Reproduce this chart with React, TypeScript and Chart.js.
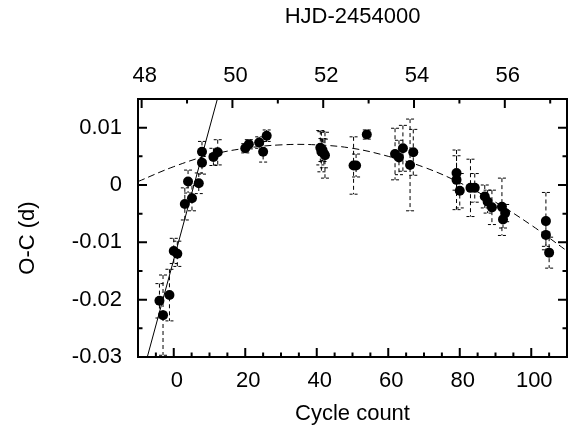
import { useEffect, useRef } from 'react'
import { Chart, registerables } from 'chart.js'

Chart.register(...registerables)

// ── data ─────────────────────────────────────────────────────────────────
const cycles = [
  -4.0, -3.0, -1.2, 0.0, 1.0, 3.1, 5.1, 4.0, 7.0, 7.9, 7.9, 11.1, 12.3,
  20.0, 21.0, 23.9, 25.0, 26.0, 41.0, 41.3, 42.0, 41.6, 42.3, 50.3, 51.0, 54.0,
  61.9, 63.0, 64.1, 66.1, 67.0, 79.1, 79.1, 80.0, 83.0, 84.2, 87.0, 87.8, 89.0,
  91.8, 92.7, 92.1, 104.1, 104.1, 105.0,
]
const ocValues = [
  -0.0202, -0.0227, -0.0192, -0.0115, -0.0120, -0.0033, -0.0023, 0.0006, 0.0003, 0.0039, 0.0058, 0.0049, 0.0057,
  0.0064, 0.0071, 0.0074, 0.0058, 0.0086, 0.0065, 0.0058, 0.0055, 0.0061, 0.0052, 0.0034, 0.0034, 0.0088,
  0.0054, 0.0048, 0.0064, 0.0035, 0.0057, 0.0021, 0.0009, -0.0010, -0.0005, -0.0005, -0.0020, -0.0029, -0.0039,
  -0.0038, -0.0049, -0.0060, -0.0063, -0.0087, -0.0118,
]
const ocErrors = [
  0.0030, 0.0070, 0.0045, 0.0022, 0.0022, 0.0028, 0.0022, 0.0020, 0.0018, 0.0020, 0.0018, 0.0015, 0.0022,
  0.0008, 0.0008, 0.0010, 0.0018, 0.0010, 0.0030, 0.0035, 0.0025, 0.0020, 0.0040, 0.0050, 0.0020, 0.0008,
  0.0045, 0.0030, 0.0040, 0.0080, 0.0040, 0.0030, 0.0052, 0.0030, 0.0050, 0.0025, 0.0020, 0.0020, 0.0030,
  0.0050, 0.0015, 0.0015, 0.0050, 0.0020, 0.0027,
]

// quadratic fit (dashed), read at every 10 cycles
const fitCycles = [-10, 0, 10, 20, 30, 40, 50, 60, 70, 80, 90, 100, 110]
const fitValues = [0.0006, 0.0032, 0.0052, 0.0064, 0.0070, 0.0070, 0.0064, 0.0050, 0.0031, 0.0004, -0.0030, -0.0070, -0.0115]

// steep linear ephemeris (solid)
const lineCycles = [-7.4, 12.2]
const lineValues = [-0.030, 0.015]

const cycleTicks = [0, 20, 40, 60, 80, 100]
const hjdTicks = [48, 50, 52, 54, 56]
const ocTicks = [-0.03, -0.02, -0.01, 0, 0.01]

const FONT = { family: '"Liberation Sans", Arial, sans-serif', size: 22 }

// error bars, frame, inward ticks, y title
const decorPlugin = {
  id: 'decor',
  beforeDatasetsDraw(chart: any) {
    const { ctx } = chart
    const x = chart.scales.x, y = chart.scales.y
    ctx.save()
    ctx.strokeStyle = '#000'
    ctx.lineWidth = 1
    cycles.forEach((c, i) => {
      const px = x.getPixelForValue(c)
      const top = y.getPixelForValue(ocValues[i] + ocErrors[i])
      const bot = y.getPixelForValue(ocValues[i] - ocErrors[i])
      ctx.setLineDash([4, 3])
      ctx.beginPath(); ctx.moveTo(px, top); ctx.lineTo(px, bot); ctx.stroke()
      ctx.setLineDash([3, 2])
      ctx.beginPath()
      ctx.moveTo(px - 4, top); ctx.lineTo(px + 4, top)
      ctx.moveTo(px - 4, bot); ctx.lineTo(px + 4, bot)
      ctx.stroke()
    })
    ctx.restore()
  },
  afterDraw(chart: any) {
    const { ctx, chartArea: a } = chart
    const x = chart.scales.x, x2 = chart.scales.x2, y = chart.scales.y
    ctx.save()
    ctx.strokeStyle = '#000'
    ctx.lineWidth = 2
    ctx.setLineDash([])
    ctx.beginPath()
    for (let v = -5; v < 110; v += 5) {
      const px = x.getPixelForValue(v), len = v % 20 === 0 ? 9 : 4.5
      ctx.moveTo(px, a.bottom); ctx.lineTo(px, a.bottom - len)
    }
    for (let v = 48; v <= 57; v += 1) {
      const px = x2.getPixelForValue(v), len = v % 2 === 0 ? 9 : 4.5
      ctx.moveTo(px, a.top); ctx.lineTo(px, a.top + len)
    }
    for (let k = -5; k <= 2; k++) {
      const py = y.getPixelForValue(k * 0.005), len = k % 2 === 0 ? 9 : 4.5
      ctx.moveTo(a.left, py); ctx.lineTo(a.left + len, py)
      ctx.moveTo(a.right, py); ctx.lineTo(a.right - len, py)
    }
    ctx.stroke()
    ctx.strokeRect(a.left, a.top, a.right - a.left, a.bottom - a.top)

    // y title sits a little below the plot centre, as in the original
    ctx.translate(y.left + 28, (a.top + a.bottom) / 2 + 10)
    ctx.rotate(-Math.PI / 2)
    ctx.fillStyle = '#000'
    ctx.font = `${FONT.size}px ${FONT.family}`
    ctx.textAlign = 'center'
    ctx.textBaseline = 'middle'
    ctx.fillText('O-C (d)', 0, 0)
    ctx.restore()
  },
}

export default function App() {
  const ref = useRef<HTMLCanvasElement>(null)
  const chart = useRef<Chart | null>(null)

  useEffect(() => {
    if (!ref.current) return
    chart.current?.destroy()
    chart.current = new Chart(ref.current, {
      type: 'scatter',
      data: {
        datasets: [
          {
            data: cycles.map((c, i) => ({ x: c, y: ocValues[i] })),
            backgroundColor: '#000', borderWidth: 0, pointRadius: 5, pointHoverRadius: 5,
          },
          {
            type: 'line',
            data: fitCycles.map((c, i) => ({ x: c, y: fitValues[i] })),
            borderColor: '#000', borderWidth: 1, borderDash: [7, 4], pointRadius: 0, tension: 0.4, fill: false,
          },
          {
            type: 'line',
            data: lineCycles.map((c, i) => ({ x: c, y: lineValues[i] })),
            borderColor: '#000', borderWidth: 1, pointRadius: 0, fill: false,
          },
        ] as any,
      },
      options: {
        responsive: false, animation: false,
        layout: { padding: { left: 0, right: 4, top: 0, bottom: 0 } },
        plugins: { legend: { display: false }, tooltip: { enabled: false } },
        scales: {
          x: {
            type: 'linear', position: 'bottom', min: -10, max: 110,
            grid: { display: false, drawTicks: false }, border: { display: false },
            afterBuildTicks: (s: any) => { s.ticks = cycleTicks.map(v => ({ value: v })) },
            afterFit: (s: any) => { s.height = 75 },
            ticks: { padding: 11, labelOffset: 3, color: '#000', font: FONT, callback: (v: any) => String(v) },
            title: { display: true, text: 'Cycle count', color: '#000', font: FONT, padding: { top: 0, bottom: 5 } },
          },
          x2: {
            type: 'linear', position: 'top', min: 47.92, max: 57.37,
            grid: { display: false, drawTicks: false }, border: { display: false },
            afterBuildTicks: (s: any) => { s.ticks = hjdTicks.map(v => ({ value: v })) },
            afterFit: (s: any) => { s.height = 99 },
            ticks: { padding: 10, labelOffset: 3, color: '#000', font: FONT, callback: (v: any) => String(v) },
            title: { display: true, text: 'HJD-2454000', color: '#000', font: FONT, padding: { top: 4, bottom: 0 } },
          },
          y: {
            type: 'linear', position: 'left', min: -0.03, max: 0.015,
            grid: { display: false, drawTicks: false }, border: { display: false },
            afterBuildTicks: (s: any) => { s.ticks = ocTicks.map(v => ({ value: v })) },
            afterFit: (s: any) => { s.width = 138 },
            ticks: { padding: 16, color: '#000', font: FONT, callback: (v: any) => String(v) },
            title: { display: false },
          },
        },
      },
      plugins: [decorPlugin],
    })
    return () => { chart.current?.destroy() }
  }, [])

  return (
    <div style={{ position: 'absolute', left: 0, top: 0, width: 572, height: 432, background: '#fff' }}>
      <canvas ref={ref} width={572} height={432} />
    </div>
  )
}
